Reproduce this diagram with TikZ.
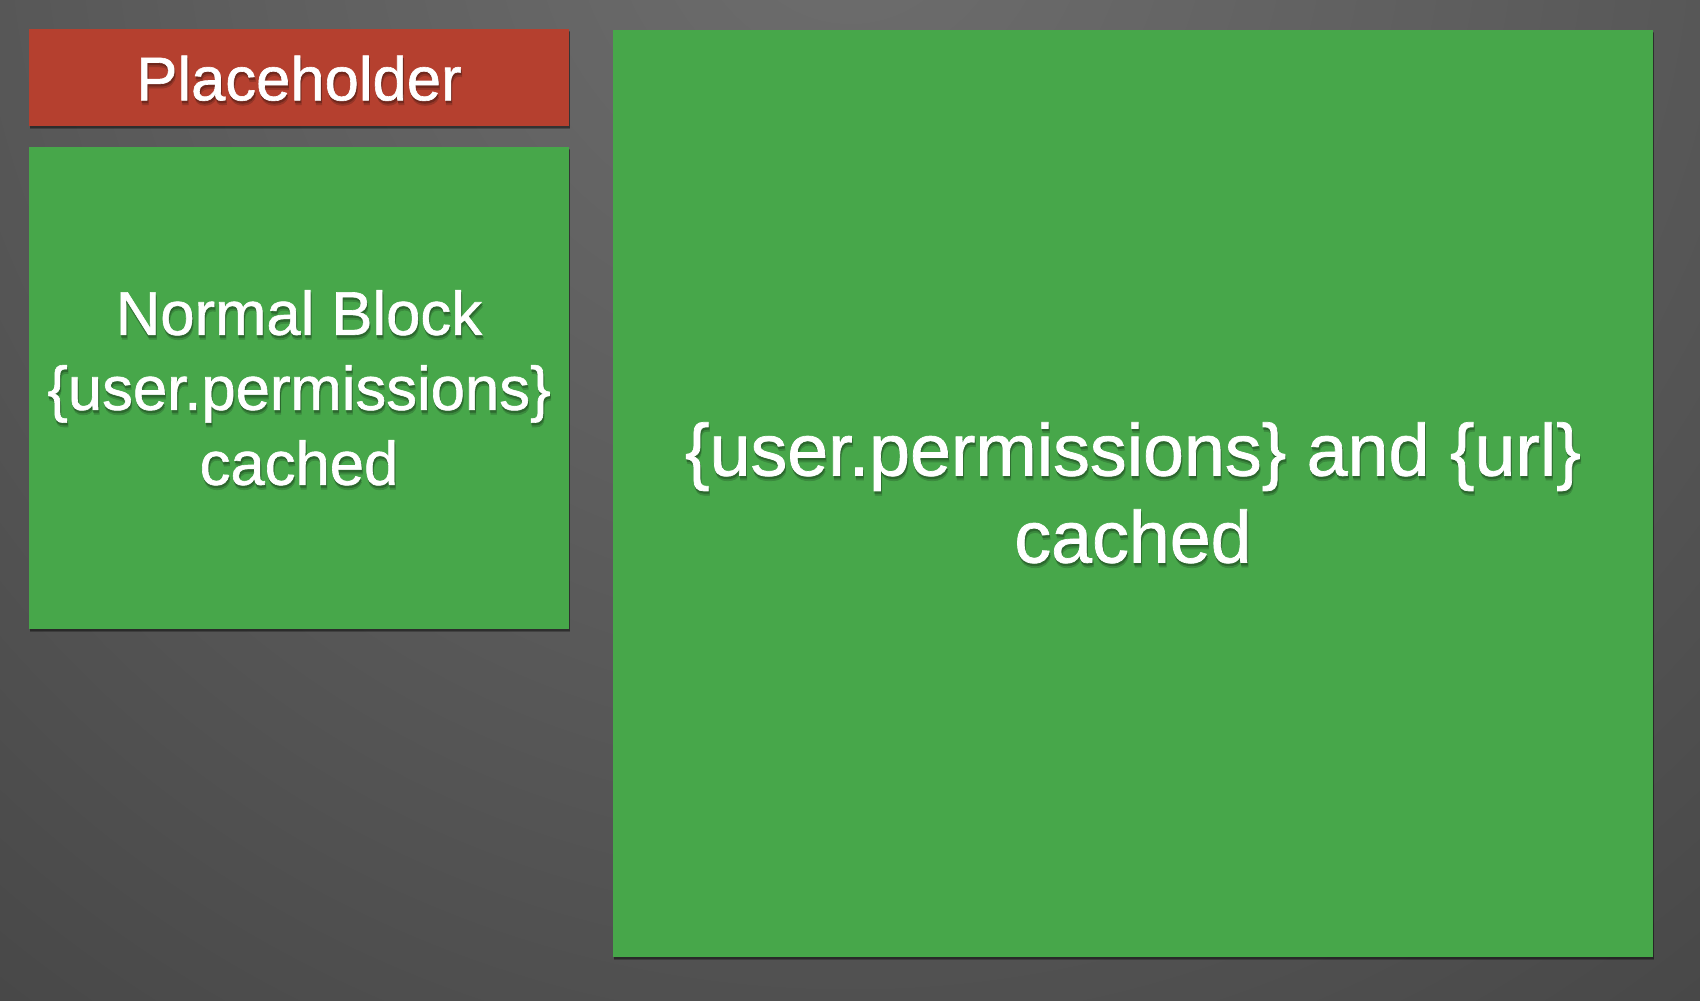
\documentclass[tikz,border=0pt]{standalone}
\usepackage{fontspec}
\setmainfont{Liberation Sans}[FakeBold=1.0]
\usetikzlibrary{shadows}
\definecolor{boxgreen}{HTML}{47A74A}
\definecolor{boxred}{HTML}{B5402F}
\pgfdeclareradialshading{bgrad}{\pgfpoint{0bp}{0bp}}{%
  color(0bp)=(black!57);
  color(10bp)=(black!63);
  color(25bp)=(black!73);
  color(38bp)=(black!82);
  color(50bp)=(black!83)}
\newcommand\shlines[1]{\begin{tabular}{@{}c@{}}#1\end{tabular}}
\newcommand\shtxt[2]{\leavevmode
  \rlap{\hspace*{0.6pt}\raisebox{-2.2pt}{\textcolor{#1!82!black}{\shlines{#2}}}}%
  \rlap{\hspace*{0.4pt}\raisebox{-1.2pt}{\textcolor{#1!62!black}{\shlines{#2}}}}%
  \shlines{#2}}
\tikzset{
  panel/.style={draw=none, inner sep=0pt, outer sep=0pt,
    drop shadow={shadow xshift=0.5pt, shadow yshift=-1.5pt, opacity=0.25, fill=black},
    drop shadow={shadow xshift=0.3pt, shadow yshift=-0.8pt, opacity=0.3, fill=black}},
  bigtext/.style={text=white, align=center, inner sep=0pt, font=\fontsize{30.8}{37.5}\selectfont},
  hugetext/.style={text=white, align=center, inner sep=0pt, font=\fontsize{36.8}{43.5}\selectfont},
}
\begin{document}
\begin{tikzpicture}[x=0.5pt, y=-0.5pt]
\useasboundingbox (0,0) rectangle (1700,1000);
% background
\fill[black!83] (0,0) rectangle (1700,1000);
\begin{scope}
\clip (0,0) rectangle (1700,1000);
\shade[shading=bgrad] (850,-100) circle (1500);
\end{scope}
% panels
\node[panel, fill=boxred, minimum width=270pt, minimum height=48.5pt, anchor=north west] (ph) at (29,29) {};
\node[panel, fill=boxgreen, minimum width=270pt, minimum height=241pt, anchor=north west] (nb) at (29,147) {};
\node[panel, fill=boxgreen, minimum width=520pt, minimum height=463.5pt, anchor=north west] (big) at (613,30) {};
% texts
\node[bigtext] (phl) at ([yshift=-5pt]ph.center) {\shtxt{boxred}{Placeholder}};
\node[bigtext] (nbl) at ([yshift=-4.5pt]nb.center) {\shtxt{boxgreen}{Normal Block\\\{user.permissions\}\\cached}};
\node[hugetext] (bigl) at ([yshift=-5.2pt]big.center) {\shtxt{boxgreen}{\{user.permissions\} and \{url\}\\cached}};
\end{tikzpicture}
\end{document}
